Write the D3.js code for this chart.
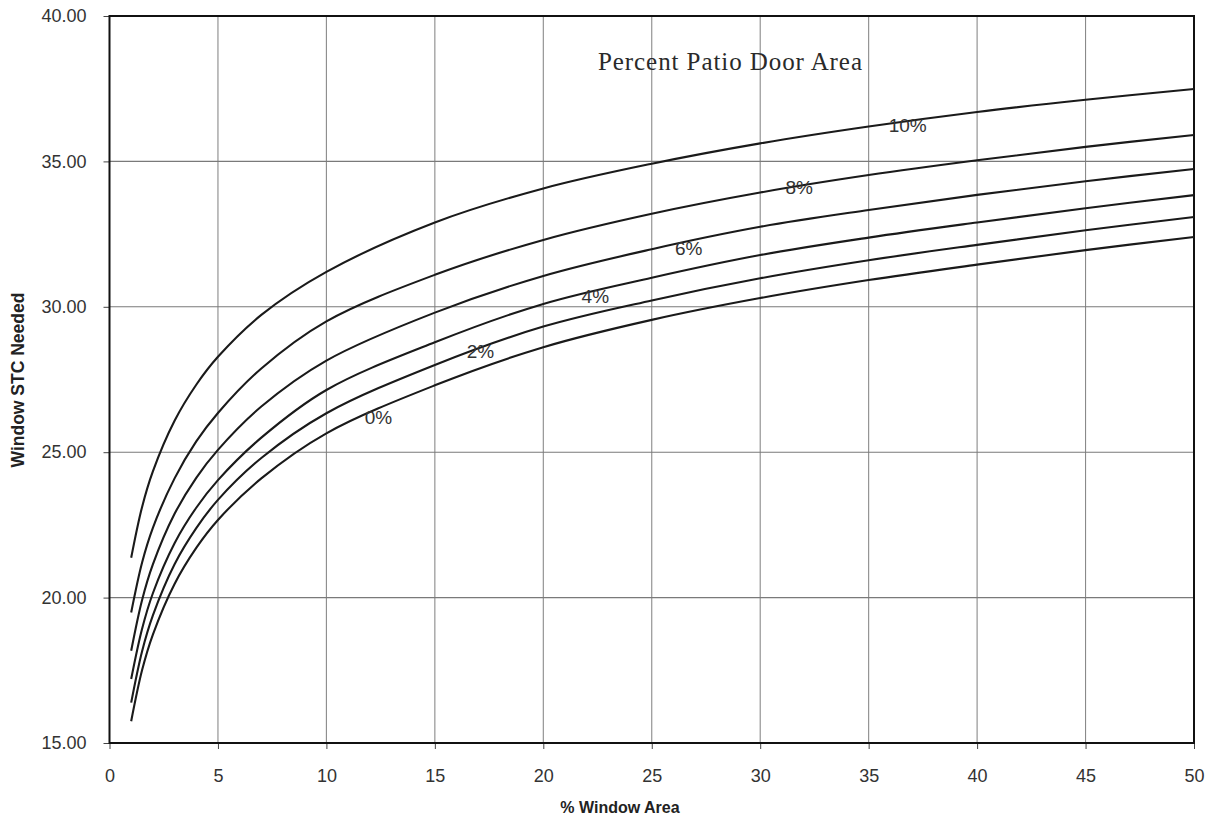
<!DOCTYPE html>
<html>
<head>
<meta charset="utf-8">
<script src="https://cdn.jsdelivr.net/npm/d3@7"></script>
<style>
  html, body { margin: 0; padding: 0; background: #fff; }
  svg { display: block; }
</style>
</head>
<body>
<svg id="chart" width="1212" height="822"></svg>
<script>
// ---- data ----
const windowArea = [1, 1.5, 2, 3, 4, 5, 7, 10, 15, 20, 25, 30, 35, 40, 45, 50];
const stc0  = [15.75, 17.5, 18.73, 20.47, 21.71, 22.67, 24.1, 25.65, 27.3, 28.61, 29.55, 30.3, 30.92, 31.45, 31.95, 32.4];
const stc2  = [16.39, 18.15, 19.39, 21.15, 22.39, 23.36, 24.8, 26.34, 28.0, 29.32, 30.22, 30.98, 31.6, 32.13, 32.63, 33.09];
const stc4  = [17.2, 18.92, 20.15, 21.87, 23.09, 24.04, 25.5, 27.14, 28.78, 30.1, 31.0, 31.78, 32.38, 32.9, 33.39, 33.84];
const stc6  = [18.17, 19.91, 21.14, 22.88, 24.12, 25.08, 26.57, 28.15, 29.8, 31.06, 31.98, 32.75, 33.33, 33.85, 34.32, 34.74];
const stc8  = [19.49, 21.2, 22.4, 24.1, 25.37, 26.35, 27.88, 29.5, 31.1, 32.3, 33.2, 33.93, 34.53, 35.04, 35.5, 35.91];
const stc10 = [21.37, 23.11, 24.34, 26.08, 27.32, 28.28, 29.72, 31.2, 32.9, 34.07, 34.92, 35.62, 36.2, 36.7, 37.12, 37.49];
const seriesNames = ["0%", "2%", "4%", "6%", "8%", "10%"];
const seriesValues = [stc0, stc2, stc4, stc6, stc8, stc10];
// label anchor points in data units (x = % window area, y = STC)
const labelX = [12.4, 17.1, 22.4, 26.7, 31.8, 36.8];
const labelY = [26.2, 28.45, 30.37, 32.0, 34.1, 36.25];
const xTicks = [0, 5, 10, 15, 20, 25, 30, 35, 40, 45, 50];
const yTicks = [15, 20, 25, 30, 35, 40];
const chartTitle = "Percent Patio Door Area";
const xTitle = "% Window Area";
const yTitle = "Window STC Needed";

// ---- layout ----
const svg = d3.select("#chart");
const pLeft = 109.5, pRight = 1194, pTop = 16, pBottom = 743;
const x = d3.scaleLinear().domain([0, 50]).range([pLeft, pRight]);
const y = d3.scaleLinear().domain([15, 40]).range([pBottom, pTop]);

// gridlines
const grid = svg.append("g");
grid.selectAll("line.v").data(xTicks.slice(1, -1)).enter().append("line")
  .attr("x1", d => x(d)).attr("x2", d => x(d))
  .attr("y1", pTop).attr("y2", pBottom)
  .attr("stroke", "#8a8a8a").attr("stroke-width", 1.1);
grid.selectAll("line.h").data(yTicks.slice(1, -1)).enter().append("line")
  .attr("x1", pLeft).attr("x2", pRight)
  .attr("y1", d => y(d)).attr("y2", d => y(d))
  .attr("stroke", "#7a7a7a").attr("stroke-width", 1.1);

// axes
const xAxis = d3.axisBottom(x).tickValues(xTicks).tickSize(6).tickSizeOuter(0).tickPadding(20)
  .tickFormat(d3.format("d"));
const yAxis = d3.axisLeft(y).tickValues(yTicks).tickSize(6).tickSizeOuter(0).tickPadding(17)
  .tickFormat(d3.format(".2f"));
const gx = svg.append("g").attr("transform", `translate(0,${pBottom})`).call(xAxis);
const gy = svg.append("g").attr("transform", `translate(${pLeft},0)`).call(yAxis);
[gx, gy].forEach(g => {
  g.select(".domain").remove();
  g.selectAll(".tick line").attr("stroke", "#444").attr("stroke-width", 1);
  g.selectAll(".tick text")
    .attr("font-family", "Liberation Sans, Arial, sans-serif")
    .attr("font-size", 18).attr("fill", "#333");
});

// frame
svg.append("rect")
  .attr("x", pLeft).attr("y", pTop)
  .attr("width", pRight - pLeft).attr("height", pBottom - pTop)
  .attr("fill", "none").attr("stroke", "#111").attr("stroke-width", 2);

// curves
const line = d3.line()
  .x((d, i) => x(windowArea[i]))
  .y(d => y(d))
  .curve(d3.curveCatmullRom.alpha(0.5));
svg.append("g").selectAll("path").data(seriesValues).enter().append("path")
  .attr("d", d => line(d))
  .attr("fill", "none").attr("stroke", "#1a1a1a").attr("stroke-width", 2.1);

// series labels
svg.append("g").selectAll("text").data(seriesNames).enter().append("text")
  .attr("x", (d, i) => x(labelX[i]))
  .attr("y", (d, i) => y(labelY[i]))
  .attr("text-anchor", "middle").attr("dominant-baseline", "central")
  .attr("font-family", "Liberation Sans, Arial, sans-serif")
  .attr("font-size", 19).attr("fill", "#333")
  .text(d => d);

// chart title
svg.append("text")
  .attr("x", 730).attr("y", 70)
  .attr("text-anchor", "middle")
  .attr("font-family", "Liberation Serif, Times New Roman, serif")
  .attr("font-size", 25).attr("fill", "#2a2a2a")
  .attr("textLength", 264).attr("lengthAdjust", "spacing")
  .text(chartTitle);

// axis titles
svg.append("text")
  .attr("x", 620).attr("y", 813)
  .attr("text-anchor", "middle")
  .attr("font-family", "Liberation Sans, Arial, sans-serif")
  .attr("font-weight", "bold").attr("font-size", 16).attr("fill", "#222")
  .text(xTitle);
svg.append("text")
  .attr("transform", `translate(24,380) rotate(-90)`)
  .attr("text-anchor", "middle")
  .attr("font-family", "Liberation Sans, Arial, sans-serif")
  .attr("font-weight", "bold").attr("font-size", 17.5).attr("fill", "#222")
  .text(yTitle);
</script>
</body>
</html>
